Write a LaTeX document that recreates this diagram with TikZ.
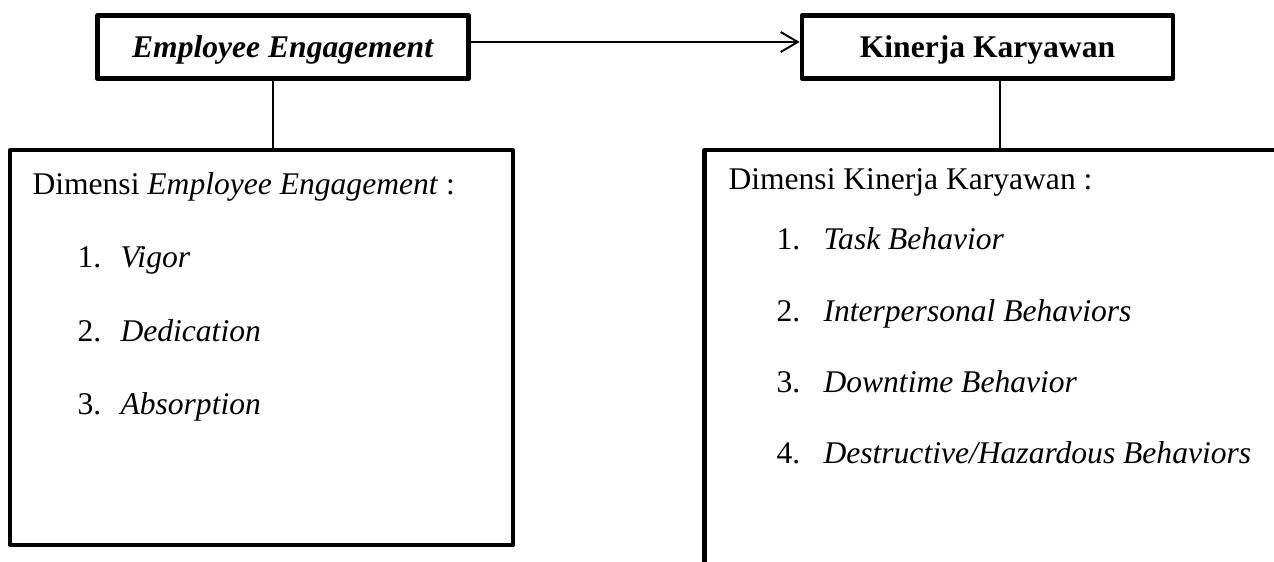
\documentclass[tikz,border=0pt]{standalone}
\usepackage{fontspec}
\setmainfont{Liberation Serif}
\usetikzlibrary{arrows.meta,positioning}

\begin{document}
\begin{tikzpicture}[
  x=0.38pt, y=-0.38pt,
  font=\fontsize{12}{14}\selectfont,
  varbox/.style={draw, line width=1.7pt, line join=round, inner sep=0pt, minimum width=141pt, minimum height=24pt, text height=7.9pt, text depth=0pt, font=\fontsize{12}{14}\selectfont\bfseries},
  dimbox/.style={draw, line width=1.7pt, line join=round, inner sep=0pt},
  txt/.style={anchor=base west, inner sep=0pt},
  stem/.style={line width=0.75pt},
  arr/.style={line width=0.75pt, -{Straight Barb[length=6.5pt, width=7.6pt, line width=0.75pt]}}
]
  \clip (0,0) rectangle (1274,562);
  % variables
  \node[varbox] (ee) at (283,47) {\textit{Employee Engagement}};
  \node[varbox] (kk) at (987.5,47) {Kinerja Karyawan};
  \draw[arr] ([yshift=1.9pt]ee.east) -- ([yshift=1.9pt]kk.west);

  % dimension boxes
  \node[dimbox, minimum width=191pt, minimum height=150pt] (dimee) at (261.5,347.5) {};
  \node[dimbox, minimum width=236pt, minimum height=190pt] (dimkk) at (1015,400) {};
  \coordinate (ls) at (273,0);
  \coordinate (rs) at (1000,0);
  \draw[stem] (ee.south -| ls) -- (dimee.north -| ls);
  \draw[stem] (kk.south -| rs) -- (dimkk.north -| rs);

  % employee engagement dimensions
  \node[txt] (tee) at (32,195) {Dimensi \textit{Employee Engagement} :};
  \node[txt] (ne1) at (77,268) {1.};
  \node[txt] (ie1) at (120,268) {\textit{Vigor}};
  \node[txt] (ne2) at (77,342) {2.};
  \node[txt] (ie2) at (120,342) {\textit{Dedication}};
  \node[txt] (ne3) at (77,415) {3.};
  \node[txt] (ie3) at (120,415) {\textit{Absorption}};

  % kinerja dimensions
  \node[txt] (tkk) at (728,190) {Dimensi Kinerja Karyawan :};
  \node[txt] (nk1) at (776,250) {1.};
  \node[txt] (ik1) at (823,250) {\textit{Task Behavior}};
  \node[txt] (nk2) at (776,322) {2.};
  \node[txt] (ik2) at (823,322) {\textit{Interpersonal Behaviors}};
  \node[txt] (nk3) at (776,393) {3.};
  \node[txt] (ik3) at (823,393) {\textit{Downtime Behavior}};
  \node[txt] (nk4) at (776,464) {4.};
  \node[txt] (ik4) at (823,464) {\textit{Destructive/Hazardous Behaviors}};
\end{tikzpicture}
\end{document}
